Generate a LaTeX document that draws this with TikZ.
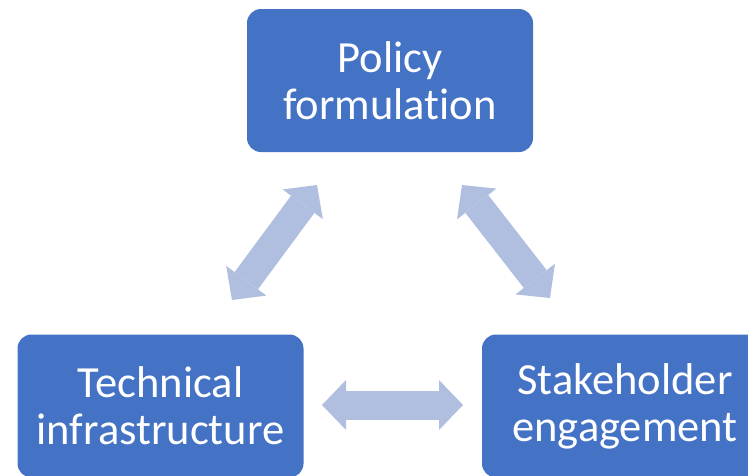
\documentclass[tikz,border=0pt]{standalone}
\usepackage{fontspec}
\setmainfont{Carlito}[Ligatures=NoCommon]
\usetikzlibrary{positioning}
\usetikzlibrary{arrows.meta}
\usetikzlibrary{calc}
\definecolor{boxblue}{RGB}{68,114,196}
\definecolor{arrowblue}{RGB}{176,190,224}

\begin{document}
\begin{tikzpicture}[x=1pt,y=-1pt,
  box/.style={fill=boxblue,rounded corners=14pt,minimum width=286pt,minimum height=143pt,
    inner sep=0pt,text=white,align=center,font=\fontsize{44.5}{47}\selectfont},
  link/.style={draw=arrowblue,line width=29pt,
    {Triangle[width=50pt,length=24pt,line width=0pt]}-{Triangle[width=50pt,length=24pt,line width=0pt]}}]
\useasboundingbox (0,0) rectangle (748,475);
\clip (0,0) rectangle (748,475);

\node[box] (policy) at (390,80.5) {Policy\\formulation};
\node[box] (tech) at (160.5,406) {Technical\\infrastructure};
\node[box] (stake) at (625,406) {Stakeholder\\engagement};

% arrow ends
\coordinate (tp) at (232,300);
\coordinate (pt) at (317,185);
\coordinate (ps) at (462,185);
\coordinate (sp) at (550,298);
\coordinate (ts) at (322,405);
\coordinate (st) at (463,405);

\draw[link] (tp) -- (pt);
\draw[link] (ps) -- (sp);
\draw[link] (ts) -- (st);
\end{tikzpicture}
\end{document}
